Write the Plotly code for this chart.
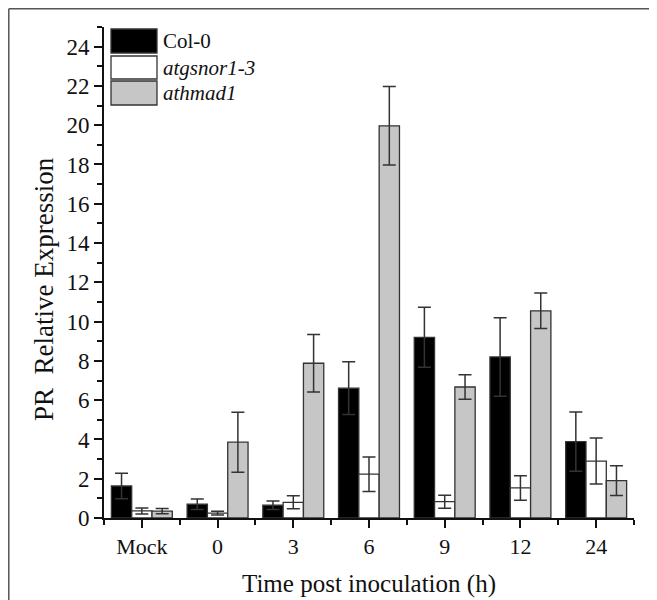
import plotly.graph_objects as go

categories = ["Mock", "0", "3", "6", "9", "12", "24"]
series_names = ["Col-0", "atgsnor1-3", "athmad1"]
col0 = [1.63, 0.70, 0.65, 6.61, 9.20, 8.20, 3.89]
col0_err = [0.65, 0.27, 0.22, 1.34, 1.53, 2.00, 1.51]
atgsnor = [0.36, 0.25, 0.80, 2.23, 0.83, 1.53, 2.90]
atgsnor_err = [0.15, 0.10, 0.33, 0.88, 0.33, 0.62, 1.17]
athmad = [0.35, 3.86, 7.88, 19.97, 6.67, 10.55, 1.90]
athmad_err = [0.13, 1.53, 1.46, 2.00, 0.63, 0.90, 0.76]
y_ticks = list(range(0, 25, 2))
x_title = "Time post inoculation (h)"
y_title = "PR\u00a0 Relative Expression"

colors = ["#000000", "#ffffff", "#c6c6c6"]
values = [col0, atgsnor, athmad]
errors = [col0_err, atgsnor_err, athmad_err]
SERIF = "Liberation Serif, Times New Roman, serif"

xpos = list(range(len(categories)))
fig = go.Figure()
for name, v, e, c in zip(series_names, values, errors, colors):
    fig.add_trace(go.Bar(
        x=xpos, y=v, name=name,
        marker=dict(color=c, line=dict(color="#333333", width=1.3)),
        error_y=dict(type="data", array=e, visible=True, color="#333333",
                     thickness=1.5, width=6.5),
        showlegend=False,
    ))

# page has an 8px body margin: screenshot coords = figure coords + 8
OFF = 8
W, H = 657, 600
L, T = 104 - OFF, 27 - OFF
R = W - (634 - OFF)
B = H - (518 - OFF)
pw, ph = W - L - R, H - T - B

def px(sx):
    return (sx - OFF - L) / pw

def py(sy):
    return (H - B - (sy - OFF)) / ph

shapes = []
annotations = []
# outer frame (left and top edges visible in the reference)
frame = dict(color="#555555", width=1.5)
shapes.append(dict(type="line", xref="paper", yref="paper",
                   x0=px(8.8), x1=px(8.8), y0=py(8.8), y1=py(H + 20), line=frame, layer="below"))
shapes.append(dict(type="line", xref="paper", yref="paper",
                   x0=px(8.8), x1=px(W + 20), y0=py(8.8), y1=py(8.8), line=frame, layer="below"))
# custom legend
rows = [(29, 53), (56, 79), (81, 105)]
for (y0, y1), name, c in zip(rows, series_names, colors):
    shapes.append(dict(type="rect", xref="paper", yref="paper",
                       x0=px(111), x1=px(157), y0=py(y1), y1=py(y0),
                       fillcolor=c, line=dict(color="#333333", width=1.3)))
    txt = name if name == "Col-0" else "<i>%s</i>" % name
    annotations.append(dict(xref="paper", yref="paper", x=px(161), y=py((y0 + y1) / 2),
                            text=txt, showarrow=False, xanchor="left", yanchor="middle",
                            font=dict(family=SERIF, size=21, color="#111111")))
# y-axis title
annotations.append(dict(xref="paper", yref="paper", x=px(44), y=py(289),
                        text=y_title, textangle=-90, showarrow=False,
                        xanchor="center", yanchor="middle",
                        font=dict(family=SERIF, size=27, color="#111111")))

fig.update_layout(
    width=W, height=H,
    margin=dict(l=L, r=R, t=T, b=B),
    plot_bgcolor="white", paper_bgcolor="white",
    barmode="group", bargap=0.195, bargroupgap=0,
    font=dict(family=SERIF, size=20, color="#111111"),
    shapes=shapes, annotations=annotations,
    xaxis=dict(
        range=[-0.5, 6.5], tickmode="array", tickvals=xpos, ticktext=categories,
        showline=True, linecolor="#111111", linewidth=1.8,
        ticks="outside", ticklen=8, tickwidth=1.8, tickcolor="#111111",
        minor=dict(tickmode="linear", tick0=0.5, dtick=1, ticks="outside",
                   ticklen=5, tickwidth=1.8, tickcolor="#111111"),
        showgrid=False, zeroline=False,
        tickfont=dict(family=SERIF, size=22),
        title=dict(text=x_title, font=dict(family=SERIF, size=25), standoff=16),
    ),
    yaxis=dict(
        range=[0, 25], tickmode="array", tickvals=y_ticks,
        showline=True, linecolor="#111111", linewidth=1.8,
        ticks="outside", ticklen=8, tickwidth=1.8, tickcolor="#111111",
        minor=dict(tickmode="linear", tick0=0, dtick=1, ticks="outside",
                   ticklen=5, tickwidth=1.8, tickcolor="#111111"),
        showgrid=False, zeroline=False,
        tickfont=dict(family=SERIF, size=23),
    ),
)

fig.write_html("out.html")
